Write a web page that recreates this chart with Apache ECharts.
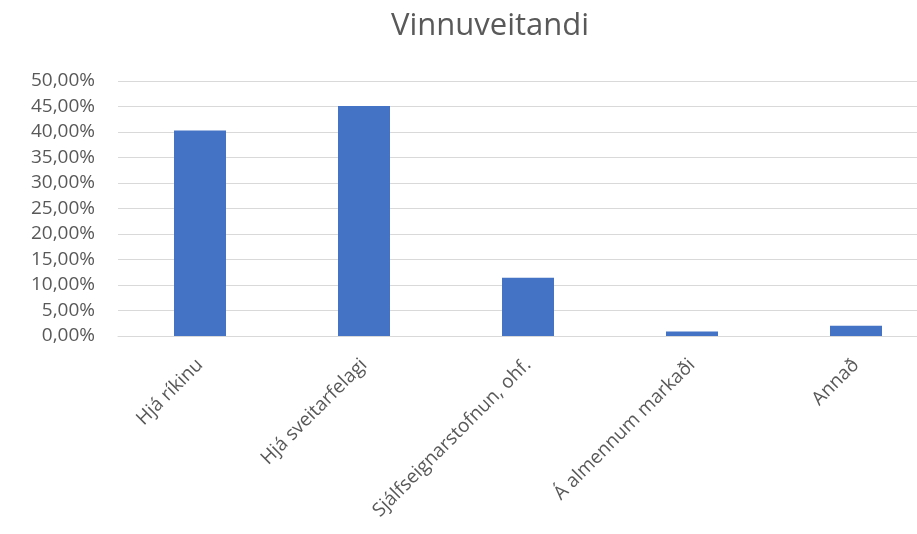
<!DOCTYPE html>
<html>
<head>
<meta charset="utf-8">
<script src="https://cdn.jsdelivr.net/npm/echarts@6/dist/echarts.min.js"></script>
<style>
    html, body { margin: 0; padding: 0; background: #fff; }
    #myCharts { width: 917px; height: 534px; }
</style>
</head>
<body>
<div id="myCharts"></div>
<script>
    // gögn lesin af myndinni
    const categories = ['Hjá ríkinu', 'Hjá sveitarfelagi', 'Sjálfseignarstofnun, ohf.', 'Á almennum markaði', 'Annað'];
    const values = [40.3, 45.1, 11.4, 0.9, 2.0];

    const myCharts = echarts.init(document.getElementById('myCharts'));
    const font = '"Open Sans", sans-serif';
    let options = {
        animation: false,
        title: {
            text: 'Vinnuveitandi',
            left: 485,
            top: 6,
            textAlign: 'center',
            textStyle: { fontFamily: font, fontSize: 31, fontWeight: 'normal', color: '#595959' }
        },
        grid: { left: 118, top: 81, width: 820, height: 255, outerBoundsMode: 'none', containLabel: false },
        xAxis: {
            type: 'category',
            data: categories,
            axisLine: { lineStyle: { color: '#d9d9d9', width: 1 } },
            axisTick: { show: false },
            axisLabel: {
                rotate: 45,
                interval: 0,
                margin: 26,
                fontFamily: font,
                fontSize: 19,
                color: '#595959'
            }
        },
        yAxis: {
            type: 'value',
            min: 0,
            max: 50,
            interval: 5,
            axisLine: { show: false },
            axisTick: { show: false },
            splitLine: { lineStyle: { color: '#d9d9d9', width: 1 } },
            axisLabel: {
                margin: 23,
                fontFamily: font,
                fontSize: 19,
                color: '#595959',
                formatter: function (v) { return v.toFixed(2).replace('.', ',') + '%'; }
            }
        },
        series: [{
            type: 'bar',
            data: values,
            barWidth: 52,
            itemStyle: { color: '#4472C4' }
        }]
    };
    myCharts.setOption(options);
</script>
</body>
</html>
